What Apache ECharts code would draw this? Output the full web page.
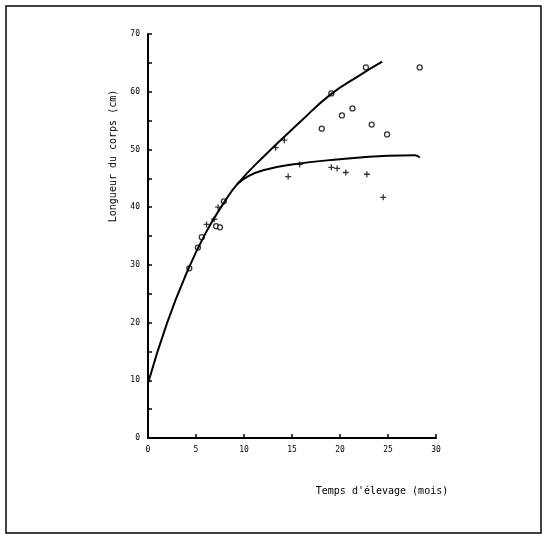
<!DOCTYPE html><html><head><meta charset="utf-8"><script src="https://cdn.jsdelivr.net/npm/echarts@6/dist/echarts.min.js"></script>
<style>body{margin:0;background:#fff}#c{width:550px;height:540px}</style></head><body><div id="c"></div><script>
const circles=[[4.3,29.4],[5.2,33.0],[5.6,34.8],[7.1,36.7],[7.5,36.5],[7.9,41.0],[18.1,53.6],[19.1,59.7],[20.2,55.9],[21.3,57.1],[22.7,64.2],[23.3,54.3],[24.9,52.6],[28.3,64.2]];
const crosses=[[6.1,37.0],[6.9,37.9],[7.3,40.0],[13.3,50.3],[14.2,51.6],[14.6,45.3],[15.8,47.4],[19.1,46.9],[19.7,46.7],[20.6,46.0],[22.8,45.7],[24.5,41.7]];
const upperCurve=[[0,9.5],[2,20],[4,28.5],[6,35.5],[8,41],[9.3,44],[12,48.7],[16,55],[19,59.5],[22,62.8],[24.4,65.2]];
const lowerCurve=[[9.3,44],[10.5,45.4],[12,46.4],[15,47.4],[20,48.3],[25,48.9],[27.8,49],[28.3,48.6]];
const xTicks=[0,5,10,15,20,25,30];const yTicks=[0,10,20,30,40,50,60,70];
const ch=echarts.init(document.getElementById('c'));
const f='DejaVu Sans Mono';
ch.setOption({animation:false,
graphic:[{type:'rect',shape:{x:6,y:6,width:535,height:527},style:{fill:'none',stroke:'#000',lineWidth:1.5}}],
grid:{left:148,right:114,top:34,bottom:102},
xAxis:{type:'value',min:0,max:30,interval:5,name:"Temps d'élevage (mois)",nameLocation:'middle',nameGap:48,nameTextStyle:{fontFamily:f,fontSize:10,color:'#000',padding:[0,0,0,180]},
axisLine:{lineStyle:{color:'#000',width:2}},axisTick:{inside:true,length:4,lineStyle:{color:'#000',width:1.5}},
axisLabel:{fontFamily:f,fontSize:8,color:'#000',formatter:v=>xTicks.includes(v)?v:''},splitLine:{show:false}},
yAxis:{type:'value',min:0,max:70,interval:5,name:'Longueur du corps (cm)',nameLocation:'middle',nameGap:30,nameTextStyle:{fontFamily:f,fontSize:10,color:'#000',padding:[0,0,0,160]},
axisLine:{lineStyle:{color:'#000',width:2}},axisTick:{inside:true,length:4,lineStyle:{color:'#000',width:1.5}},
axisLabel:{fontFamily:f,fontSize:8,color:'#000',formatter:v=>yTicks.includes(v)?v:''},splitLine:{show:false}},
series:[
{type:'line',data:upperCurve,smooth:true,symbol:'none',lineStyle:{color:'#000',width:2}},
{type:'line',data:lowerCurve,smooth:true,symbol:'none',lineStyle:{color:'#000',width:2}},
{type:'scatter',data:circles,symbol:'circle',symbolSize:5,itemStyle:{color:'#fff',borderColor:'#000',borderWidth:1.3}},
{type:'scatter',data:crosses,symbol:'path://M-1,0H1M0,-1V1',symbolSize:6,itemStyle:{color:'none',borderColor:'#000',borderWidth:1.3}}
]});
</script></body></html>
